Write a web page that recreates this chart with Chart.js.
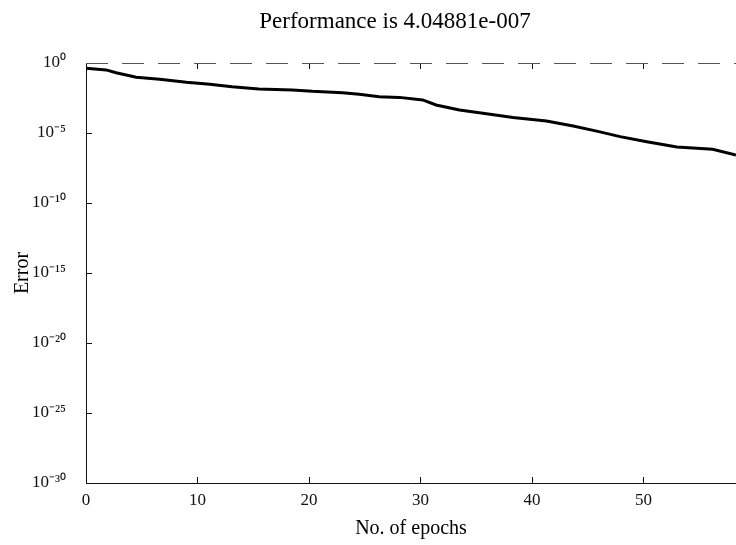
<!DOCTYPE html>
<html><head><meta charset="utf-8">
<script src="https://cdn.jsdelivr.net/npm/chart.js@4/dist/chart.umd.min.js"></script>
<style>html,body{margin:0;padding:0;background:#fff;overflow:hidden}#wrap{width:736px;height:545px}</style>
</head><body><div id="wrap"><canvas id="c" width="736" height="545"></canvas></div>
<script>
const titleText = 'Performance is 4.04881e-007';
const xAxisTitle = 'No. of epochs';
const yAxisTitle = 'Error';
const epochs = [0, 1.8, 2.7, 4.5, 6.6, 9.0, 11.1, 13.1, 15.5, 18.5, 20.3, 23.0, 24.5, 26.3, 28.1, 30.2, 31.4, 33.5, 35.6, 38.3, 41.3, 43.7, 46.1, 47.9, 50.3, 53.0, 56.2, 58.3];
const errors = [4.2e-1, 3.2e-1, 2.0e-1, 9.5e-2, 6.9e-2, 4.2e-2, 3.0e-2, 2.0e-2, 1.4e-2, 1.2e-2, 9.5e-3, 7.6e-3, 5.8e-3, 3.9e-3, 3.5e-3, 2.3e-3, 1.0e-3, 4.4e-4, 2.6e-4, 1.3e-4, 7.2e-5, 3.2e-5, 1.2e-5, 5.5e-6, 2.4e-6, 1.0e-6, 6.9e-7, 2.7e-7];
const xTicks = [0, 10, 20, 30, 40, 50];
const xMax = 58.3;
const yTickExponents = [0, -5, -10, -15, -20, -25, -30];

const SUP = {'0':'⁰','1':'¹','2':'²','3':'³','4':'⁴','5':'⁵','6':'⁶','7':'⁷','8':'⁸','9':'⁹','-':'⁻'};
const sup = s => String(s).split('').map(ch => SUP[ch] || ch).join('');
const FONT = '"Liberation Serif", "Times New Roman", serif';

const framePlugin = {
  id: 'frame',
  afterDatasetsDraw(chart) {
    const {ctx, chartArea: a, scales: {x, y}} = chart;
    ctx.save();
    ctx.strokeStyle = '#111';
    ctx.lineWidth = 1;
    ctx.beginPath();
    yTickExponents.forEach(e => {
      const py = Math.round(y.getPixelForValue(Math.pow(10, e))) + 0.5;
      ctx.moveTo(a.left, py); ctx.lineTo(a.left + 6, py);
    });
    xTicks.forEach(v => {
      const px = Math.round(x.getPixelForValue(v)) + 0.5;
      ctx.moveTo(px, a.bottom); ctx.lineTo(px, a.bottom - 6);
      ctx.moveTo(px, a.top); ctx.lineTo(px, a.top + 6);
    });
    ctx.stroke();
    ctx.strokeStyle = '#555';
    ctx.setLineDash([22, 14]);
    ctx.beginPath();
    ctx.moveTo(a.left, Math.round(a.top) + 0.5);
    ctx.lineTo(a.right, Math.round(a.top) + 0.5);
    ctx.stroke();
    ctx.restore();
  },
  afterDraw(chart) {
    const ctx = chart.ctx;
    ctx.save();
    ctx.fillStyle = '#000';
    ctx.font = '23px ' + FONT;
    ctx.textAlign = 'center';
    ctx.textBaseline = 'middle';
    ctx.fillText(titleText, 395, 22);
    ctx.restore();
  }
};

new Chart(document.getElementById('c'), {
  type: 'line',
  data: {
    datasets: [{
      data: epochs.map((e, i) => ({x: e, y: errors[i]})),
      borderColor: '#000',
      borderWidth: 3,
      pointRadius: 0,
      tension: 0,
      fill: false
    }]
  },
  options: {
    responsive: false,
    animation: false,
    devicePixelRatio: 1,
    layout: {padding: {top: 63, left: 0, right: 0, bottom: 0}},
    plugins: {legend: {display: false}, tooltip: {enabled: false}, title: {display: false}},
    scales: {
      x: {
        type: 'linear', min: 0, max: xMax,
        afterBuildTicks: s => { s.ticks = xTicks.map(v => ({value: v})); },
        afterFit: s => { s.height = 62; },
        grid: {display: true, drawOnChartArea: false, drawTicks: false},
        border: {display: true, color: '#111', width: 1},
        ticks: {color: '#111', font: {family: FONT, size: 17}, padding: 7, maxRotation: 0, autoSkip: false,
          callback: v => String(v)},
        title: {display: true, text: xAxisTitle, color: '#000', font: {family: FONT, size: 20}, padding: {top: 12}}
      },
      y: {
        type: 'logarithmic', min: 1e-30, max: 1,
        afterBuildTicks: s => { s.ticks = yTickExponents.map(e => ({value: Math.pow(10, e)})); },
        afterFit: s => { s.width = 86; },
        grid: {display: true, drawOnChartArea: false, drawTicks: false},
        border: {display: true, color: '#111', width: 1},
        ticks: {color: '#111', font: {family: FONT, size: 17}, padding: 20, autoSkip: false,
          callback: (v, i) => '10' + sup(yTickExponents[i])},
        title: {display: true, text: yAxisTitle, color: '#000', font: {family: FONT, size: 20}, padding: {top: 11, bottom: 0}}
      }
    }
  },
  plugins: [framePlugin]
});
</script>
</body></html>
